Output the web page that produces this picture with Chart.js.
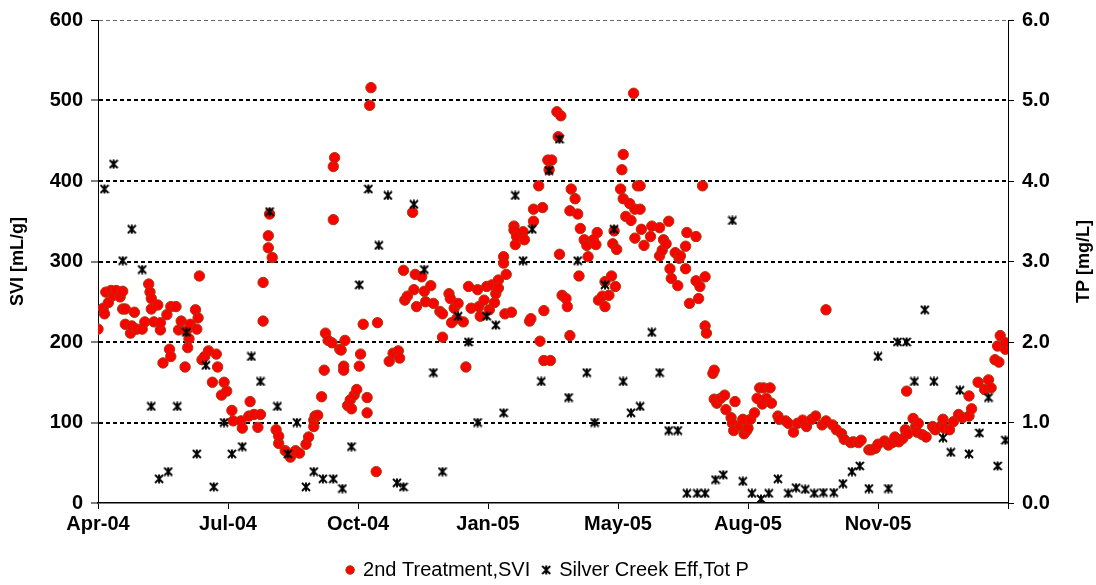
<!DOCTYPE html>
<html>
<head>
<meta charset="utf-8">
<script src="https://cdn.jsdelivr.net/npm/chart.js@4.4.1/dist/chart.umd.min.js"></script>
<style>
  body { margin: 0; background: #fff; }
  canvas { display: block; }
</style>
</head>
<body>
<canvas id="chart" width="1096" height="585"></canvas>
<script>
// days counted from 1 Apr 2004 (the first axis tick)
const sviDays = [0,4,5,6,8,10,12,14,17,19,19,21,21,25,26,28,30,34,36,39,40,41,41,43,46,48,48,50,53,55,56,56,60,62,64,67,68,70,69,71,75,76,77,78,80,82,85,88,91,92,95,97,99,103,104,110,111,117,116,120,123,125,127,127,131,131,134,132,137,139,
  139,144,148,152,155,160,162,166,166,167,169,172,174,175,177,180,181,182,181,186,187,189,189,190,192,194,195,197,199,201,202,204,207,207,209,210,214,215,224,227,231,232,235,236,238,242,243,244,245,249,251,252,256,258,263,265,265,270,271,272,274,277,
  276,281,283,285,287,292,293,294,297,299,301,303,305,306,308,308,312,312,313,314,318,320,320,321,322,327,328,332,333,335,335,339,342,340,343,343,348,346,349,347,353,356,354,355,357,360,361,363,363,364,367,369,370,371,374,376,377,381,383,384,385,388,390,390,393,395,396,397,398,399,402,403,404,404,406,409,410,412,413,413,415,
  417,417,418,420,425,426,432,432,434,435,437,439,440,441,444,446,447,448,452,452,453,455,460,460,462,463,467,465,467,468,473,474,474,476,479,482,483,487,488,489,490,494,496,497,499,500,502,505,507,509,511,512,514,517,518,523,524,529,531,535,538,542,545,549,552,
  557,560,560,565,568,572,574,579,581,585,587,593,595,598,600,605,608,611,613,616,619,621,622,623,627,629,631,630,634,637,642,644,648,650,651,655,658,662,665,670,670,672,677,682,685,687,690,693,692,694,698,698];
const sviValues = [216,242,235,262,249,264,258,264,256,263,241,241,222,211,220,237,216,216,225,272,262,254,241,225,246,215,224,174,234,191,182,244,244,215,226,169,214,204,193,222,240,216,230,282,178,182,189,150,185,169,134,150,139,115,102,102,93,126,108,110,94,110,274,226,332,317,305,359,91,74,
  83,65,57,65,62,73,82,95,103,108,109,132,165,211,202,199,418,429,352,191,190,170,165,202,121,128,117,134,141,170,185,222,131,112,494,516,39,224,176,186,189,180,289,252,257,361,265,284,244,281,263,250,270,248,238,235,206,260,254,224,242,248,
  229,225,169,269,242,265,244,232,252,269,240,271,249,260,277,267,306,298,235,284,237,344,339,321,331,337,327,226,229,350,365,394,367,201,239,177,177,426,426,414,486,481,455,309,258,254,244,208,363,390,378,359,282,341,327,320,306,327,321,336,252,257,275,244,258,282,322,338,269,315,390,414,433,378,356,372,351,509,329,365,394,
  394,365,340,320,331,344,342,307,314,327,322,350,291,279,311,270,304,307,291,319,336,248,276,331,254,269,281,394,220,211,161,165,129,124,130,134,116,106,99,90,126,96,104,86,90,93,104,112,130,143,123,143,130,143,124,108,104,102,99,88,99,103,95,104,108,
  97,102,240,97,91,86,79,75,76,75,78,66,66,68,73,77,72,75,82,76,80,91,139,86,105,95,99,88,85,82,95,91,95,104,93,91,101,110,106,108,133,117,150,141,153,143,178,175,195,208,191,199];

const tpDays = [5,12,19,26,34,41,47,54,61,68,76,83,89,97,103,111,118,125,132,138,146,153,160,166,173,181,188,195,201,208,216,223,230,235,243,251,258,265,277,285,292,299,306,312,321,327,334,341,347,355,362,369,376,382,390,397,404,410,417,426,432,439,446,453,461,467,475,481,488,496,503,510,516,523,531,537,544,551,558,566,573,580,586,593,600,608,615,622,628,636,643,650,656,663,670,678,685,692,698];
const tpValues = [3.90,4.21,3.01,3.40,2.90,1.20,0.30,0.39,1.20,2.12,0.61,1.71,0.20,1.00,0.61,0.70,1.82,1.51,3.62,1.20,0.61,1.00,0.20,0.39,0.30,0.30,0.18,0.70,2.71,3.90,3.20,3.82,0.25,0.20,3.71,2.90,1.62,0.39,2.32,2.00,1.00,2.32,2.21,1.12,3.82,3.01,3.40,1.51,4.13,4.52,1.31,3.01,1.62,1.00,2.71,3.40,1.51,1.12,1.20,2.12,1.62,0.90,0.90,0.12,0.12,0.12,0.29,0.35,3.51,0.27,0.12,0.05,0.12,0.30,0.12,0.19,0.17,0.12,0.13,0.13,0.24,0.39,0.46,0.18,1.82,0.18,2.00,2.00,1.51,2.40,1.51,0.81,0.63,1.40,0.61,0.87,1.31,0.46,0.78];

const seriesNames = ['2nd Treatment,SVI', 'Silver Creek Eff,Tot P'];
const monthNames = ['Jan','Feb','Mar','Apr','May','Jun','Jul','Aug','Sep','Oct','Nov','Dec'];
const startDate = Date.UTC(2004, 3, 1);

const FONT = '"Liberation Sans", Arial, sans-serif';

function dayLabel(v) {
    if (v >= 700) return '';
    const d = new Date(startDate + v * 86400000);
    return monthNames[d.getUTCMonth()] + '-' + String(d.getUTCFullYear() % 100).padStart(2, '0');
}

// excel style star marker: an x with a vertical stroke
function makeStar(size, lw) {
    const c = document.createElement('canvas');
    c.width = size;
    c.height = size;
    const g = c.getContext('2d');
    const a = 1, b = size - 1, m = size / 2;
    g.strokeStyle = '#000';
    g.lineWidth = lw;
    g.beginPath();
    g.moveTo(a, a); g.lineTo(b, b);
    g.moveTo(b, a); g.lineTo(a, b);
    g.moveTo(m, 0.5); g.lineTo(m, size - 0.5);
    g.stroke();
    return c;
}
const star = makeStar(10, 1.9);

// the right title reads bottom to top, as on the left
const rightTitle = {
    id: 'rightTitle',
    afterDraw(chart) {
        const ctx = chart.ctx;
        const area = chart.chartArea;
        ctx.save();
        ctx.translate(chart.scales.y2.right - 12, (area.top + area.bottom) / 2);
        ctx.rotate(-Math.PI / 2);
        ctx.font = 'bold 18px ' + FONT;
        ctx.fillStyle = '#000';
        ctx.textAlign = 'center';
        ctx.textBaseline = 'middle';
        ctx.fillText('TP [mg/L]', 0, 0);
        ctx.restore();
    }
};

new Chart(document.getElementById('chart'), {
    type: 'scatter',
    data: {
        datasets: [
            {
                label: seriesNames[0],
                data: sviDays.map((d, i) => ({ x: d, y: sviValues[i] })),
                yAxisID: 'y',
                pointStyle: 'circle',
                pointRadius: 5.2,
                backgroundColor: '#FF0000',
                borderColor: '#A53A0C',
                borderWidth: 1,
                order: 2
            },
            {
                label: seriesNames[1],
                data: tpDays.map((d, i) => ({ x: d, y: tpValues[i] })),
                yAxisID: 'y2',
                pointStyle: star,
                pointRadius: 4,
                backgroundColor: '#000',
                borderColor: '#000',
                order: 1
            }
        ]
    },
    options: {
        responsive: false,
        animation: false,
        events: [],
        layout: { padding: { top: 20, left: 0, right: 0, bottom: 0 } },
        plugins: {
            tooltip: { enabled: false },
            legend: {
                position: 'bottom',
                maxHeight: 38,
                labels: {
                    usePointStyle: true,
                    boxWidth: 6,
                    boxHeight: 6,
                    padding: 13,
                    color: '#000',
                    font: { family: FONT, size: 20 },
                    sort: (a, b) => a.datasetIndex - b.datasetIndex
                }
            }
        },
        scales: {
            x: {
                type: 'linear',
                min: 0,
                max: 700,
                afterFit: s => { s.height = 44; },
                ticks: {
                    stepSize: 100,
                    autoSkip: false,
                    maxRotation: 0,
                    padding: 3,
                    color: '#000',
                    font: { family: FONT, size: 20, weight: 'bold' },
                    callback: v => dayLabel(v)
                },
                grid: { drawOnChartArea: false, tickLength: 6, tickColor: '#000', tickWidth: 1 },
                border: { color: '#000', width: 1.5 }
            },
            y: {
                position: 'left',
                min: 0,
                max: 600,
                afterFit: s => { s.width = 98; },
                ticks: {
                    stepSize: 100,
                    padding: 8,
                    color: '#000',
                    font: { family: FONT, size: 20, weight: 'bold' }
                },
                grid: {
                    color: c => c.tick && c.tick.value === 600 ? '#666' : '#000',
                    lineWidth: c => c.tick && c.tick.value === 0 ? 0 : (c.tick && c.tick.value === 600 ? 1 : 2),
                    tickLength: 7,
                    tickColor: '#000',
                    tickWidth: 1,
                    tickBorderDash: []
                },
                border: { color: '#000', width: 1, dash: [4, 3] },
                title: {
                    display: true,
                    text: 'SVI [mL/g]',
                    color: '#000',
                    font: { family: FONT, size: 18, weight: 'bold' },
                    padding: { top: 7, bottom: 0 }
                }
            },
            y2: {
                position: 'right',
                min: 0,
                max: 6,
                afterFit: s => { s.width = 88; },
                ticks: {
                    stepSize: 1,
                    padding: 8,
                    color: '#000',
                    font: { family: FONT, size: 20, weight: 'bold' },
                    callback: v => v.toFixed(1)
                },
                grid: { drawOnChartArea: false, tickLength: 6, tickColor: '#000', tickWidth: 1 },
                border: { color: '#000', width: 1 }
            }
        }
    },
    plugins: [rightTitle]
});
</script>
</body>
</html>
